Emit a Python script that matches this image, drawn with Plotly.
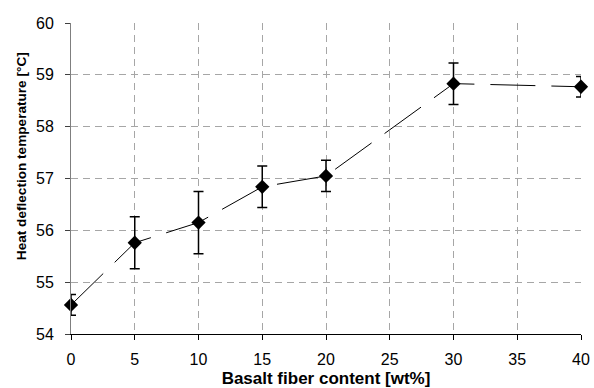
import plotly.graph_objects as go

fiber_content = [0, 5, 10, 15, 20, 30, 40]
hdt = [54.56, 55.76, 56.15, 56.84, 57.05, 58.83, 58.77]
hdt_err = [0.2, 0.5, 0.6, 0.4, 0.3, 0.4, 0.2]

x_ticks = [0, 5, 10, 15, 20, 25, 30, 35, 40]
y_ticks = [54, 55, 56, 57, 58, 59, 60]

x_title = "Basalt fiber content [wt%]"
y_title = "Heat deflection temperature [°C]"

FONT = "Liberation Sans, Arial, sans-serif"

fig = go.Figure()
fig.add_trace(go.Scatter(
    x=fiber_content, y=hdt,
    mode="lines+markers",
    line=dict(color="black", width=1, dash="45px,16px"),
    marker=dict(symbol="diamond", size=11, color="black"),
    error_y=dict(type="data", array=hdt_err, visible=True,
                 color="black", thickness=1.5, width=5),
    cliponaxis=False,
    showlegend=False,
    hoverinfo="skip",
))

fig.update_layout(
    width=594, height=388,
    margin=dict(l=71, r=13, t=23, b=54),
    paper_bgcolor="white", plot_bgcolor="white",
    font=dict(family=FONT, size=16, color="black"),
)
fig.update_xaxes(
    range=[0, 40], tickvals=x_ticks, ticktext=[str(v) for v in x_ticks],
    automargin=False,
    showline=True, linecolor="black", linewidth=1,
    ticks="outside", ticklen=5, tickcolor="black", tickwidth=1,
    ticklabelstandoff=6,
    showgrid=True, gridcolor="#a6a6a6", gridwidth=1, griddash="7px,5px",
    zeroline=False,
    title=dict(text="<b>" + x_title + "</b>", font=dict(size=17), standoff=7),
)
fig.update_yaxes(
    range=[54, 60], tickvals=y_ticks, ticktext=[str(v) for v in y_ticks],
    automargin=False,
    showline=True, linecolor="#7f7f7f", linewidth=1,
    ticks="outside", ticklen=5, tickcolor="#404040", tickwidth=1,
    ticklabelstandoff=8,
    showgrid=True, gridcolor="#a6a6a6", gridwidth=1, griddash="7px,5px",
    zeroline=False,
)
fig.add_annotation(
    text="<b>" + y_title + "</b>", textangle=-90,
    xref="paper", yref="paper", x=-0.098, y=0.572,
    xanchor="center", yanchor="middle", showarrow=False,
    font=dict(size=13.6),
)

fig.write_html("out.html", config={"displayModeBar": False},
               post_script="document.body.style.margin='0';")
